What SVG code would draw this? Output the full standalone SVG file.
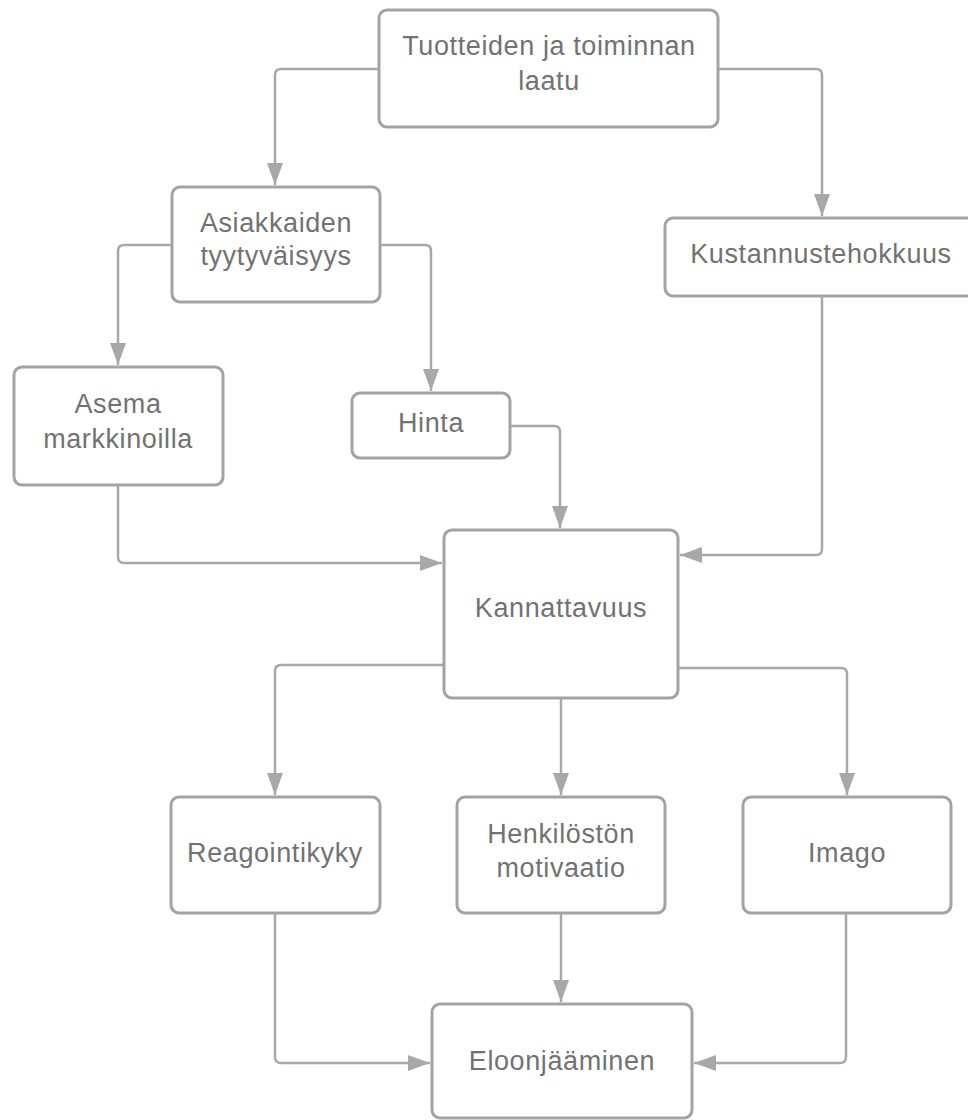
<svg xmlns="http://www.w3.org/2000/svg" width="968" height="1120" viewBox="0 0 968 1120">
<defs>
<style>
.n{fill:#fff;stroke:#a3a3a3;stroke-width:3}
.t{font-family:"Liberation Sans",Arial,sans-serif;font-size:27px;letter-spacing:0.6px;fill:#727272;text-anchor:middle}
.c{fill:none;stroke:#a8a8a8;stroke-width:2.5}
</style>
<marker id="a" viewBox="0 0 22 16" refX="22" refY="8" markerWidth="22" markerHeight="16" markerUnits="userSpaceOnUse" orient="auto">
<path d="M0,0 L22,8 L0,16 Z" fill="#a8a8a8"/>
</marker>
</defs>
<rect width="968" height="1120" fill="#fff"/>
<g id="connectors">
<path class="c" marker-end="url(#a)" d="M379,69 H281 Q275,69 275,75 V185"/>
<path class="c" marker-end="url(#a)" d="M718,69 H816 Q822,69 822,75 V216"/>
<path class="c" marker-end="url(#a)" d="M172,245 H124 Q118,245 118,251 V365"/>
<path class="c" marker-end="url(#a)" d="M380,245 H425 Q431,245 431,251 V391"/>
<path class="c" marker-end="url(#a)" d="M510,426 H554 Q560,426 560,432 V528"/>
<path class="c" marker-end="url(#a)" d="M118,485 V557 Q118,563 124,563 H442"/>
<path class="c" marker-end="url(#a)" d="M822,296 V549 Q822,555 816,555 H680"/>
<path class="c" marker-end="url(#a)" d="M444,665 H281 Q275,665 275,671 V795"/>
<path class="c" marker-end="url(#a)" d="M561,698 V795"/>
<path class="c" marker-end="url(#a)" d="M678,668 H841 Q847,668 847,674 V795"/>
<path class="c" marker-end="url(#a)" d="M275,913 V1057 Q275,1063 281,1063 H430"/>
<path class="c" marker-end="url(#a)" d="M561,913 V1002"/>
<path class="c" marker-end="url(#a)" d="M846,913 V1057 Q846,1063 840,1063 H694"/>
</g>
<g id="n1"><rect class="n" x="379" y="10" width="339" height="117" rx="8"/><text class="t" x="549" y="55">Tuotteiden ja toiminnan</text><text class="t" x="549" y="90">laatu</text></g>
<g id="n2"><rect class="n" x="172" y="187" width="208" height="115" rx="8"/><text class="t" x="276" y="232">Asiakkaiden</text><text class="t" x="276" y="265">tyytyväisyys</text></g>
<g id="n3"><rect class="n" x="665" y="218" width="313" height="78" rx="8"/><text class="t" x="821" y="263">Kustannustehokkuus</text></g>
<g id="n4"><rect class="n" x="14" y="367" width="209" height="118" rx="8"/><text class="t" x="118" y="413">Asema</text><text class="t" x="118" y="448">markkinoilla</text></g>
<g id="n5"><rect class="n" x="352" y="393" width="158" height="65" rx="8"/><text class="t" x="431" y="432">Hinta</text></g>
<g id="n6"><rect class="n" x="444" y="530" width="234" height="168" rx="8"/><text class="t" x="561" y="617">Kannattavuus</text></g>
<g id="n7"><rect class="n" x="171" y="797" width="209" height="116" rx="8"/><text class="t" x="275" y="862">Reagointikyky</text></g>
<g id="n8"><rect class="n" x="457" y="797" width="208" height="116" rx="8"/><text class="t" x="561" y="843">Henkilöstön</text><text class="t" x="561" y="877">motivaatio</text></g>
<g id="n9"><rect class="n" x="743" y="797" width="208" height="116" rx="8"/><text class="t" x="847" y="862">Imago</text></g>
<g id="n10"><rect class="n" x="432" y="1004" width="260" height="114" rx="8"/><text class="t" x="562" y="1070">Eloonjääminen</text></g>
</svg>
